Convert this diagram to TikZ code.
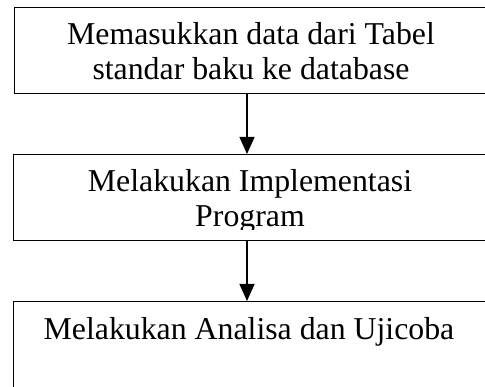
\documentclass[tikz,border=0pt]{standalone}
\usepackage{fontspec}
\setmainfont{Liberation Serif}
\usetikzlibrary{arrows.meta}
\begin{document}
\begin{tikzpicture}[x=1pt,y=1pt,
  boxstyle/.style={draw=black,line width=1.3pt,inner sep=0pt,anchor=north west},
  txt/.style={font=\fontsize{31.8}{35}\selectfont,align=center,inner sep=0pt,anchor=base},
  arr/.style={line width=1.3pt,-{Triangle[length=17pt,width=15pt]}}]
\useasboundingbox (0,0) rectangle (485,-387);
\clip (0,0) rectangle (485,-387);
\node[boxstyle,minimum width=476pt,minimum height=86pt] (b1) at (14,-7) {};
\node[boxstyle,minimum width=477pt,minimum height=86pt] (b2) at (13,-154) {};
\node[boxstyle,minimum width=477pt,minimum height=120pt] (b3) at (13,-301) {};
\node[txt] (t1) at (251,-80) {Memasukkan data dari Tabel\\standar baku ke database};
\begin{scope}
\clip (13,-154) rectangle (490,-230);
\node[txt] (t2) at (250,-227) {Melakukan Implementasi\\Program};
\end{scope}
\node[txt] (t3) at (249,-340) {Melakukan Analisa dan Ujicoba};
\coordinate (ax) at (247,0);
\draw[arr] (b1.south -| ax) -- (b2.north -| ax);
\draw[arr] (b2.south -| ax) -- (b3.north -| ax);
\end{tikzpicture}
\end{document}
